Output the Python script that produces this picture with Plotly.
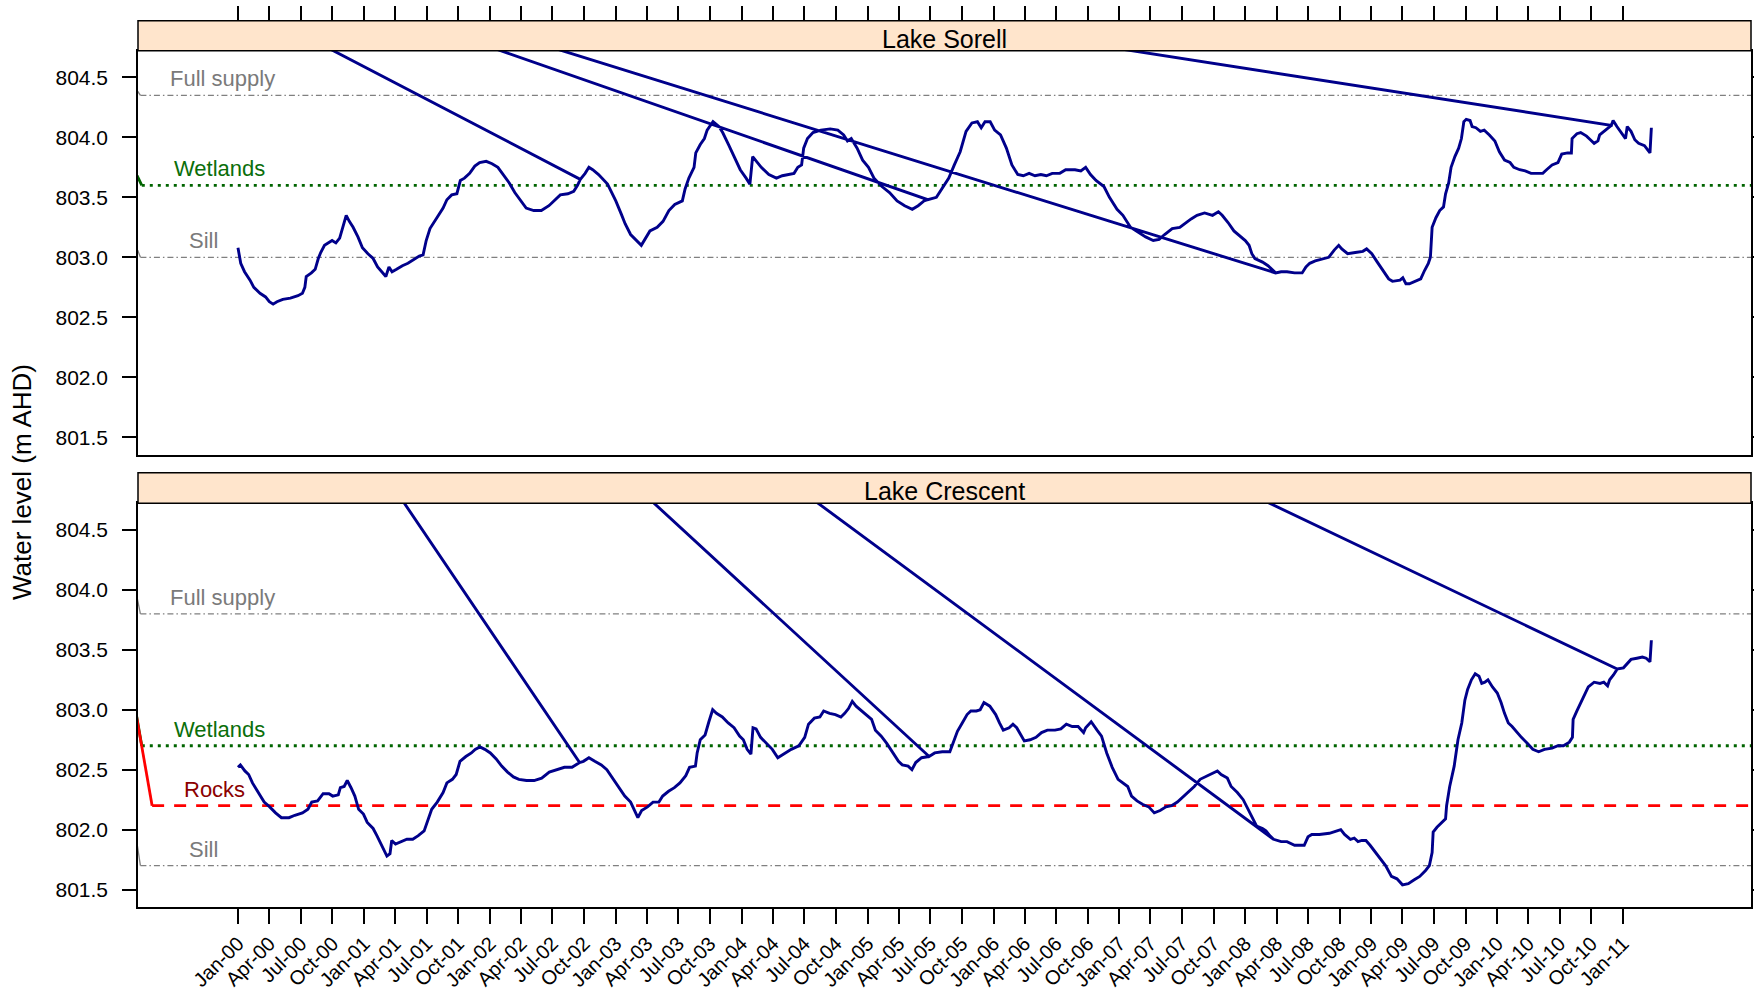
import pandas as pd
import plotly.graph_objects as go

# ---------------- data ----------------
sorell_dates = [
    "2000-01-01", "2000-01-09", "2000-01-20", "2000-02-05", "2000-02-16", "2000-03-05", "2000-03-21", "2000-04-01",
    "2000-04-12", "2000-04-23", "2000-05-10", "2000-06-01", "2000-06-23", "2000-07-06", "2000-07-13", "2000-07-17",
    "2000-08-01", "2000-08-12", "2000-08-21", "2000-08-28", "2000-09-08", "2000-09-21", "2000-09-30", "2000-10-11",
    "2000-10-22", "2000-10-31", "2000-11-10", "2000-11-19", "2000-11-30", "2000-12-14", "2000-12-27", "2001-01-12",
    "2001-01-27", "2001-02-09", "2001-02-20", "2001-03-05", "2001-03-14", "2001-03-23", "2001-04-05", "2001-04-22",
    "2001-05-08", "2001-05-25", "2001-06-10", "2001-06-21", "2001-06-30", "2001-07-11", "2001-07-24", "2001-08-07",
    "2001-08-18", "2001-08-29", "2001-09-12", "2001-09-27", "2001-10-07", "2001-10-19", "2001-11-03", "2001-11-18",
    "2001-12-02", "2001-12-21", "2002-01-07", "2002-01-24", "2002-02-09", "2002-02-26", "2002-03-14", "2002-03-31",
    "2002-04-16", "2002-05-08", "2002-05-30", "2002-06-21", "2002-07-08", "2002-07-24", "2002-08-15", "2002-09-01",
    "2002-09-12", "2002-09-20", "2002-10-04", "2002-10-15", "2002-10-26", "2002-11-12", "2002-12-08", "2003-01-01",
    "2003-01-17", "2003-01-28", "2003-02-13", "2003-03-01", "2003-03-16", "2003-04-10", "2003-05-01", "2003-05-18",
    "2003-06-04", "2003-06-21", "2003-07-13", "2003-07-21", "2003-08-01", "2003-08-16", "2003-08-21", "2003-09-03",
    "2003-09-15", "2003-09-23", "2003-10-10", "2003-10-27", "2003-11-07", "2003-11-24", "2003-12-11", "2003-12-28",
    "2004-01-14", "2004-01-25", "2004-02-02", "2004-02-11", "2004-02-27", "2004-03-20", "2004-04-11", "2004-04-28",
    "2004-05-15", "2004-06-01", "2004-06-12", "2004-06-23", "2004-06-29", "2004-07-10", "2004-07-26", "2004-08-18",
    "2004-09-14", "2004-10-06", "2004-10-23", "2004-11-03", "2004-11-14", "2004-12-01", "2004-12-17", "2005-01-03",
    "2005-01-19", "2005-02-11", "2005-03-05", "2005-03-27", "2005-04-18", "2005-05-10", "2005-05-27", "2005-06-13",
    "2005-06-24", "2005-07-19", "2005-08-07", "2005-08-24", "2005-09-09", "2005-09-26", "2005-10-13", "2005-10-30",
    "2005-11-15", "2005-11-26", "2005-12-07", "2005-12-22", "2006-01-04", "2006-01-21", "2006-02-07", "2006-02-23",
    "2006-03-12", "2006-03-28", "2006-04-14", "2006-05-01", "2006-05-18", "2006-06-03", "2006-06-20", "2006-07-12",
    "2006-07-29", "2006-08-25", "2006-09-11", "2006-09-25", "2006-10-09", "2006-10-25", "2006-11-17", "2006-12-03",
    "2006-12-25", "2007-01-11", "2007-02-02", "2007-02-24", "2007-03-18", "2007-04-09", "2007-04-26", "2007-05-12",
    "2007-06-03", "2007-06-25", "2007-07-12", "2007-07-28", "2007-08-14", "2007-09-05", "2007-09-28", "2007-10-15",
    "2007-10-26", "2007-11-12", "2007-11-29", "2007-12-15", "2008-01-01", "2008-01-12", "2008-01-20", "2008-01-29",
    "2008-02-20", "2008-03-07", "2008-03-21", "2008-03-29", "2008-04-14", "2008-05-01", "2008-05-23", "2008-06-14",
    "2008-06-25", "2008-07-06", "2008-07-22", "2008-08-13", "2008-08-30", "2008-09-15", "2008-09-28", "2008-10-07",
    "2008-10-24", "2008-11-15", "2008-12-07", "2008-12-18", "2009-01-02", "2009-01-18", "2009-02-03", "2009-02-20",
    "2009-03-03", "2009-03-25", "2009-04-02", "2009-04-11", "2009-04-21", "2009-05-08", "2009-05-24", "2009-06-04",
    "2009-06-15", "2009-06-21", "2009-06-26", "2009-07-07", "2009-07-18", "2009-07-29", "2009-08-04", "2009-08-13",
    "2009-08-20", "2009-08-31", "2009-09-11", "2009-09-19", "2009-09-26", "2009-10-03", "2009-10-14", "2009-10-20",
    "2009-10-31", "2009-11-13", "2009-11-24", "2009-12-09", "2009-12-25", "2010-01-07", "2010-01-22", "2010-02-07",
    "2010-02-18", "2010-03-07", "2010-03-23", "2010-04-09", "2010-04-26", "2010-05-13", "2010-05-24", "2010-06-09",
    "2010-06-26", "2010-07-07", "2010-07-24", "2010-08-04", "2010-08-06", "2010-08-20", "2010-08-31", "2010-09-17",
    "2010-09-28", "2010-10-09", "2010-10-20", "2010-10-25", "2010-11-11", "2010-11-22", "2010-11-28", "2010-12-03",
    "2010-12-14", "2011-01-08", "2011-01-13", "2011-01-24", "2011-02-04", "2011-02-15", "2011-03-04", "2011-03-20",
    "2011-03-24",
]
sorell_levels = [
    803.08, 802.95, 802.88, 802.81, 802.75, 802.70, 802.67, 802.63,
    802.61, 802.63, 802.65, 802.66, 802.68, 802.70, 802.75, 802.84,
    802.87, 802.90, 802.99, 803.04, 803.10, 803.12, 803.14, 803.12,
    803.16, 803.25, 803.35, 803.30, 803.25, 803.17, 803.08, 803.03,
    802.99, 802.92, 802.88, 802.84, 802.92, 802.88, 802.90, 802.93,
    802.95, 802.98, 803.01, 803.02, 803.14, 803.24, 803.30, 803.36,
    803.41, 803.48, 803.52, 803.53, 803.64, 803.66, 803.70, 803.76,
    803.79, 803.80, 803.78, 803.75, 803.69, 803.62, 803.54, 803.47,
    803.41, 803.39, 803.39, 803.43, 803.48, 803.52, 803.53, 803.55,
    803.60, 803.65, 803.70, 803.75, 803.73, 803.69, 803.61, 803.47,
    803.36, 803.28, 803.19, 803.14, 803.10, 803.22, 803.25, 803.30,
    803.39, 803.44, 803.47, 803.57, 803.66, 803.75, 803.87, 803.94,
    803.99, 804.06, 804.13, 804.09, 804.04, 803.94, 803.83, 803.73,
    803.66, 803.61, 803.84, 803.81, 803.75, 803.69, 803.66, 803.68,
    803.69, 803.70, 803.75, 803.77, 803.91, 803.99, 804.04, 804.06,
    804.07, 804.06, 804.02, 803.97, 803.99, 803.91, 803.81, 803.75,
    803.66, 803.59, 803.54, 803.47, 803.43, 803.40, 803.43, 803.47,
    803.48, 803.50, 803.58, 803.66, 803.77, 803.88, 804.05, 804.12,
    804.13, 804.08, 804.13, 804.13, 804.06, 804.02, 803.91, 803.77,
    803.69, 803.68, 803.70, 803.68, 803.69, 803.68, 803.70, 803.70,
    803.73, 803.73, 803.72, 803.75, 803.69, 803.64, 803.59, 803.50,
    803.40, 803.35, 803.25, 803.21, 803.17, 803.14, 803.15, 803.19,
    803.24, 803.25, 803.29, 803.32, 803.35, 803.37, 803.35, 803.38,
    803.35, 803.29, 803.22, 803.18, 803.14, 803.10, 803.03, 802.99,
    802.96, 802.93, 802.89, 802.87, 802.88, 802.88, 802.87, 802.87,
    802.92, 802.95, 802.97, 802.99, 803.00, 803.06, 803.10, 803.07,
    803.03, 803.04, 803.05, 803.07, 803.03, 802.96, 802.89, 802.82,
    802.80, 802.81, 802.83, 802.78, 802.78, 802.80, 802.82, 802.89,
    802.95, 803.00, 803.25, 803.33, 803.39, 803.42, 803.53, 803.62,
    803.75, 803.84, 803.91, 803.99, 804.13, 804.15, 804.14, 804.09,
    804.08, 804.05, 804.06, 804.02, 803.97, 803.88, 803.81, 803.79,
    803.75, 803.73, 803.72, 803.70, 803.70, 803.70, 803.73, 803.77,
    803.79, 803.86, 803.87, 803.87, 803.99, 804.03, 804.04, 804.01,
    803.98, 803.95, 803.97, 804.02, 804.06, 804.09, 804.10, 804.14,
    804.09, 803.99, 804.09, 804.05, 803.98, 803.95, 803.93, 803.87,
    804.08,
]

crescent_dates = [
    "2000-01-01", "2000-01-08", "2000-01-21", "2000-02-01", "2000-02-12", "2000-02-28", "2000-03-17", "2000-04-02",
    "2000-04-19", "2000-05-06", "2000-05-28", "2000-06-14", "2000-07-06", "2000-07-22", "2000-08-02", "2000-08-19",
    "2000-09-04", "2000-09-21", "2000-10-02", "2000-10-18", "2000-10-24", "2000-11-04", "2000-11-13", "2000-11-24",
    "2000-12-05", "2000-12-16", "2000-12-30", "2001-01-10", "2001-01-27", "2001-02-07", "2001-02-23", "2001-03-08",
    "2001-03-17", "2001-03-22", "2001-04-02", "2001-04-19", "2001-05-05", "2001-05-22", "2001-06-07", "2001-06-24",
    "2001-07-05", "2001-07-16", "2001-08-01", "2001-08-18", "2001-08-29", "2001-09-14", "2001-09-25", "2001-10-06",
    "2001-10-23", "2001-11-08", "2001-11-19", "2001-12-03", "2001-12-17", "2002-01-02", "2002-01-19", "2002-02-04",
    "2002-02-21", "2002-03-10", "2002-03-26", "2002-04-17", "2002-05-09", "2002-05-31", "2002-06-22", "2002-07-14",
    "2002-08-05", "2002-08-27", "2002-09-07", "2002-09-18", "2002-09-29", "2002-10-15", "2002-11-01", "2002-11-20",
    "2002-12-06", "2002-12-25", "2003-01-11", "2003-01-27", "2003-02-13", "2003-02-23", "2003-03-06", "2003-03-17",
    "2003-04-03", "2003-04-19", "2003-05-06", "2003-05-17", "2003-06-03", "2003-06-20", "2003-07-06", "2003-07-23",
    "2003-08-03", "2003-08-20", "2003-08-25", "2003-09-03", "2003-09-17", "2003-09-28", "2003-10-09", "2003-10-20",
    "2003-11-06", "2003-11-23", "2003-12-10", "2003-12-26", "2004-01-06", "2004-01-17", "2004-01-28", "2004-02-03",
    "2004-02-12", "2004-02-25", "2004-03-13", "2004-03-30", "2004-04-15", "2004-05-02", "2004-05-24", "2004-06-15",
    "2004-07-02", "2004-07-13", "2004-07-30", "2004-08-15", "2004-08-26", "2004-09-12", "2004-09-29", "2004-10-15",
    "2004-10-26", "2004-11-06", "2004-11-17", "2004-11-28", "2004-12-21", "2005-01-12", "2005-01-23", "2005-02-09",
    "2005-02-25", "2005-03-14", "2005-03-31", "2005-04-11", "2005-04-28", "2005-05-09", "2005-05-20", "2005-06-06",
    "2005-06-28", "2005-07-14", "2005-08-05", "2005-08-27", "2005-09-07", "2005-09-18", "2005-10-02", "2005-10-16",
    "2005-10-27", "2005-11-12", "2005-11-23", "2005-12-04", "2005-12-21", "2006-01-07", "2006-01-18", "2006-01-29",
    "2006-02-15", "2006-02-26", "2006-03-09", "2006-03-20", "2006-03-31", "2006-04-17", "2006-05-04", "2006-05-20",
    "2006-06-06", "2006-06-28", "2006-07-15", "2006-07-31", "2006-08-17", "2006-09-03", "2006-09-19", "2006-09-25",
    "2006-10-11", "2006-10-28", "2006-11-10", "2006-11-25", "2006-12-11", "2006-12-28", "2007-01-14", "2007-01-25",
    "2007-02-05", "2007-02-21", "2007-03-10", "2007-03-27", "2007-04-12", "2007-04-29", "2007-05-16", "2007-06-01",
    "2007-06-18", "2007-07-04", "2007-07-20", "2007-08-06", "2007-08-23", "2007-09-14", "2007-10-01", "2007-10-12",
    "2007-10-23", "2007-11-10", "2007-11-21", "2007-12-09", "2007-12-26", "2008-01-06", "2008-01-19", "2008-02-03",
    "2008-02-20", "2008-03-01", "2008-03-12", "2008-03-23", "2008-04-14", "2008-05-01", "2008-05-23", "2008-06-20",
    "2008-07-01", "2008-07-12", "2008-08-03", "2008-09-01", "2008-09-23", "2008-10-04", "2008-10-15", "2008-11-01",
    "2008-11-12", "2008-11-23", "2008-12-04", "2008-12-16", "2008-12-28", "2009-01-08", "2009-01-25", "2009-02-11",
    "2009-02-28", "2009-03-16", "2009-04-01", "2009-04-18", "2009-05-04", "2009-05-21", "2009-06-07", "2009-06-18",
    "2009-06-26", "2009-06-29", "2009-07-10", "2009-07-27", "2009-08-04", "2009-08-07", "2009-08-16", "2009-08-29",
    "2009-09-09", "2009-09-20", "2009-09-29", "2009-10-07", "2009-10-18", "2009-10-29", "2009-11-09", "2009-11-17",
    "2009-11-26", "2009-12-05", "2009-12-18", "2010-01-01", "2010-01-12", "2010-01-22", "2010-02-02", "2010-02-13",
    "2010-02-24", "2010-03-12", "2010-03-29", "2010-04-14", "2010-05-01", "2010-05-18", "2010-06-09", "2010-06-26",
    "2010-07-12", "2010-07-29", "2010-08-07", "2010-08-09", "2010-08-20", "2010-08-31", "2010-09-11", "2010-09-22",
    "2010-10-09", "2010-10-26", "2010-11-06", "2010-11-17", "2010-11-23", "2010-12-04", "2010-12-15", "2011-01-02",
    "2011-01-13", "2011-01-24", "2011-02-10", "2011-02-26", "2011-03-09", "2011-03-16", "2011-03-20", "2011-03-24",
]
crescent_levels = [
    802.52, 802.54, 802.49, 802.46, 802.39, 802.31, 802.23, 802.19,
    802.14, 802.10, 802.10, 802.12, 802.14, 802.17, 802.23, 802.24,
    802.30, 802.30, 802.28, 802.29, 802.35, 802.36, 802.41, 802.35,
    802.28, 802.17, 802.13, 802.06, 802.01, 801.95, 801.85, 801.78,
    801.80, 801.91, 801.88, 801.90, 801.92, 801.92, 801.95, 801.99,
    802.09, 802.17, 802.23, 802.31, 802.39, 802.42, 802.46, 802.57,
    802.61, 802.64, 802.67, 802.69, 802.67, 802.64, 802.59, 802.53,
    802.48, 802.44, 802.42, 802.41, 802.41, 802.43, 802.48, 802.50,
    802.52, 802.52, 802.54, 802.56, 802.57, 802.60, 802.57, 802.54,
    802.50, 802.42, 802.35, 802.28, 802.23, 802.17, 802.10, 802.16,
    802.19, 802.23, 802.23, 802.28, 802.32, 802.35, 802.39, 802.45,
    802.52, 802.53, 802.64, 802.75, 802.79, 802.90, 803.00, 802.97,
    802.94, 802.89, 802.85, 802.78, 802.75, 802.67, 802.63, 802.85,
    802.84, 802.77, 802.72, 802.67, 802.60, 802.63, 802.67, 802.70,
    802.77, 802.88, 802.93, 802.94, 802.99, 802.97, 802.96, 802.94,
    802.97, 803.01, 803.07, 803.03, 802.97, 802.92, 802.83, 802.78,
    802.72, 802.65, 802.57, 802.54, 802.53, 802.50, 802.56, 802.60,
    802.61, 802.64, 802.65, 802.65, 802.74, 802.82, 802.89, 802.96,
    802.99, 802.99, 803.00, 803.06, 803.03, 802.96, 802.89, 802.83,
    802.85, 802.88, 802.85, 802.79, 802.74, 802.75, 802.77, 802.81,
    802.83, 802.83, 802.84, 802.88, 802.86, 802.86, 802.81, 802.85,
    802.90, 802.83, 802.78, 802.64, 802.52, 802.42, 802.38, 802.36,
    802.28, 802.24, 802.21, 802.19, 802.14, 802.16, 802.19, 802.20,
    802.23, 802.27, 802.31, 802.36, 802.42, 802.45, 802.48, 802.49,
    802.46, 802.43, 802.36, 802.31, 802.25, 802.19, 802.12, 802.03,
    802.01, 801.99, 801.95, 801.92, 801.90, 801.90, 801.87, 801.87,
    801.94, 801.96, 801.96, 801.97, 801.99, 802.00, 801.96, 801.92,
    801.93, 801.90, 801.91, 801.91, 801.87, 801.83, 801.77, 801.70,
    801.61, 801.59, 801.54, 801.55, 801.58, 801.61, 801.66, 801.70,
    801.81, 801.98, 802.02, 802.07, 802.09, 802.20, 802.36, 802.53,
    802.75, 802.89, 803.08, 803.17, 803.25, 803.30, 803.28, 803.22,
    803.23, 803.25, 803.19, 803.14, 803.06, 802.97, 802.89, 802.86,
    802.82, 802.77, 802.72, 802.67, 802.65, 802.67, 802.68, 802.70,
    802.70, 802.73, 802.77, 802.92, 802.99, 803.06, 803.12, 803.19,
    803.23, 803.22, 803.23, 803.20, 803.25, 803.29, 803.34, 803.35,
    803.39, 803.42, 803.43, 803.44, 803.43, 803.41, 803.40, 803.58,
]

# logger downloads: a spurious record (bad header row) is followed by a repeat of the last reading
glitch_date = "1998-01-20"
sorell_glitch_level = 806.2
crescent_glitch_level = 809.8
sorell_restarts = ["2002-09-20", "2005-06-24", "2008-03-29", "2010-11-28"]
crescent_restarts = ["2002-09-18", "2005-06-28", "2008-03-23", "2010-12-15"]

# reference levels (m AHD)
sorell_ref_names = ["Full supply", "Wetlands", "Sill"]
sorell_ref_levels = [804.35, 803.6, 803.0]
sorell_ref_starts = ["1999-03-24", "1999-03-28", "1999-03-24"]
crescent_ref_names = ["Full supply", "Wetlands", "Rocks", "Sill"]
crescent_ref_levels = [803.8, 802.7, 802.2, 801.7]
crescent_ref_starts = ["1999-03-24", "1999-03-28", "1999-04-27", "1999-03-24"]
ref_end = "2012-03-01"

tick_dates = pd.date_range("2000-01-01", "2011-01-01", freq="QS")
tick_labels = [d.strftime("%b-%y") for d in tick_dates]
y_ticks = [801.5, 802.0, 802.5, 803.0, 803.5, 804.0, 804.5]

# ---------------- styling ----------------
W, H = 1754, 992
FONT = "Liberation Sans, Arial, Helvetica, sans-serif"
SERIES_COLOR = "#00008B"
ref_style = {
    "Full supply": dict(color="#808080", dash="6px,3px,1.5px,3px", width=1.3, text="#7a7a7a"),
    "Sill": dict(color="#808080", dash="6px,3px,1.5px,3px", width=1.3, text="#7a7a7a"),
    "Wetlands": dict(color="#006400", dash="3px,5px", width=2.8, text="#0a6e0a"),
    "Rocks": dict(color="#FF0000", dash="12px,10px", width=2.8, text="#8B0000"),
}
label_x = {"Full supply": "1999-06-12", "Wetlands": "1999-06-24", "Sill": "1999-08-06", "Rocks": "1999-07-22"}

x_dom = [138 / W, 1751 / W]
def pfrac(px):
    return 1 - px / H
sorell_dom = [pfrac(455), pfrac(50.7)]
sorell_strip = [pfrac(50.7), pfrac(20.7)]
crescent_dom = [pfrac(907.3), pfrac(503.3)]
crescent_strip = [pfrac(503.3), pfrac(472.7)]
x_range = ["1999-03-17", "2012-01-07"]
y_range = [801.3525, 804.722]


def with_glitches(dates, levels, restarts, glitch_level):
    d = pd.to_datetime(pd.Series(dates))
    rs = set(pd.to_datetime(restarts))
    xs, ys = [], []
    for di, lv in zip(d, levels):
        xs.append(di)
        ys.append(lv)
        if di in rs:
            xs += [pd.Timestamp(glitch_date), di]
            ys += [glitch_level, lv]
    return xs, ys


fig = go.Figure()

panels = [
    ("x", "y", sorell_dates, sorell_levels, sorell_restarts, sorell_glitch_level,
     sorell_ref_names, sorell_ref_levels, sorell_ref_starts),
    ("x2", "y2", crescent_dates, crescent_levels, crescent_restarts, crescent_glitch_level,
     crescent_ref_names, crescent_ref_levels, crescent_ref_starts),
]

annotations = []
for xa, ya, dts, lvls, rst, gl, names, refl, refs in panels:
    for nm, lv, st in zip(names, refl, refs):
        s = ref_style[nm]
        fig.add_trace(go.Scatter(x=[glitch_date, st], y=[gl, lv], mode="lines", xaxis=xa, yaxis=ya,
                                 line=dict(color=s["color"], width=s["width"]),
                                 showlegend=False, hoverinfo="skip"))
        fig.add_trace(go.Scatter(x=[st, ref_end], y=[lv, lv], mode="lines", xaxis=xa, yaxis=ya,
                                 line=dict(color=s["color"], width=s["width"], dash=s["dash"]),
                                 showlegend=False, hoverinfo="skip"))
        annotations.append(dict(x=label_x[nm], y=lv, xref=xa, yref=ya, text=nm, showarrow=False,
                                xanchor="left", yanchor="bottom", yshift=2,
                                font=dict(family=FONT, size=22, color=s["text"])))
    gx, gy = with_glitches(dts, lvls, rst, gl)
    fig.add_trace(go.Scatter(x=gx, y=gy, mode="lines", xaxis=xa, yaxis=ya,
                             line=dict(color=SERIES_COLOR, width=2.9),
                             showlegend=False))

# dummy trace so the top tick axis is drawn
fig.add_trace(go.Scatter(x=[tick_dates[0]], y=[None], xaxis="x3", yaxis="y", mode="lines",
                         showlegend=False, hoverinfo="skip"))

shapes = []
for strip in (sorell_strip, crescent_strip):
    shapes.append(dict(type="rect", xref="paper", yref="paper", x0=x_dom[0], x1=x_dom[1],
                       y0=strip[0], y1=strip[1], fillcolor="#FFE5CC",
                       line=dict(color="black", width=1.5), layer="above"))

x_center = (x_dom[0] + x_dom[1]) / 2
for title, strip in (("Lake Sorell", sorell_strip), ("Lake Crescent", crescent_strip)):
    annotations.append(dict(x=x_center, y=strip[0], xref="paper", yref="paper", text=title,
                            showarrow=False, xanchor="center", yanchor="bottom", yshift=-4,
                            font=dict(family=FONT, size=25, color="black")))

annotations.append(dict(x=22 / W, y=pfrac(482), xref="paper", yref="paper",
                        text="Water level (m AHD)", textangle=-90, showarrow=False,
                        xanchor="center", yanchor="middle",
                        font=dict(family=FONT, size=26, color="black")))

yaxis_common = dict(range=y_range, tickvals=y_ticks, tickformat=".1f", ticks="outside", ticklen=14,
                    tickwidth=1.5, tickcolor="black", showline=True, linecolor="black", linewidth=1.5,
                    mirror="ticks", showgrid=False, zeroline=False, ticklabelstandoff=10,
                    automargin=False, tickfont=dict(family=FONT, size=21, color="black"))
xaxis_common = dict(type="date", range=x_range, showline=True, linecolor="black", linewidth=1.5,
                    mirror=True, showgrid=False, zeroline=False, automargin=False)

fig.update_layout(
    width=W, height=H, autosize=False,
    margin=dict(l=0, r=0, t=0, b=0, pad=0),
    paper_bgcolor="white", plot_bgcolor="white",
    xaxis=dict(**xaxis_common, domain=x_dom, anchor="y", ticks="", showticklabels=False),
    yaxis=dict(**yaxis_common, domain=sorell_dom, anchor="x"),
    xaxis2=dict(**xaxis_common, domain=x_dom, anchor="y2", matches="x",
                tickvals=tick_dates, ticktext=tick_labels, ticks="outside", ticklen=15,
                tickwidth=1.5, tickcolor="black", tickangle=-45,
                tickfont=dict(family=FONT, size=20, color="black")),
    yaxis2=dict(**yaxis_common, domain=crescent_dom, anchor="x2"),
    xaxis3=dict(type="date", range=x_range, overlaying="x", anchor="free", position=pfrac(20.7),
                side="top", tickvals=tick_dates, ticks="outside", ticklen=15, tickwidth=1.5,
                tickcolor="black", showticklabels=False, showline=False, showgrid=False,
                zeroline=False, automargin=False),
    shapes=shapes,
    annotations=annotations,
    showlegend=False,
)

fig.write_html(
    "out.html",
    config={"displayModeBar": False, "responsive": False},
    post_script="document.body.style.margin='0';document.body.style.overflow='hidden';"
                "document.documentElement.style.overflow='hidden';",
)
